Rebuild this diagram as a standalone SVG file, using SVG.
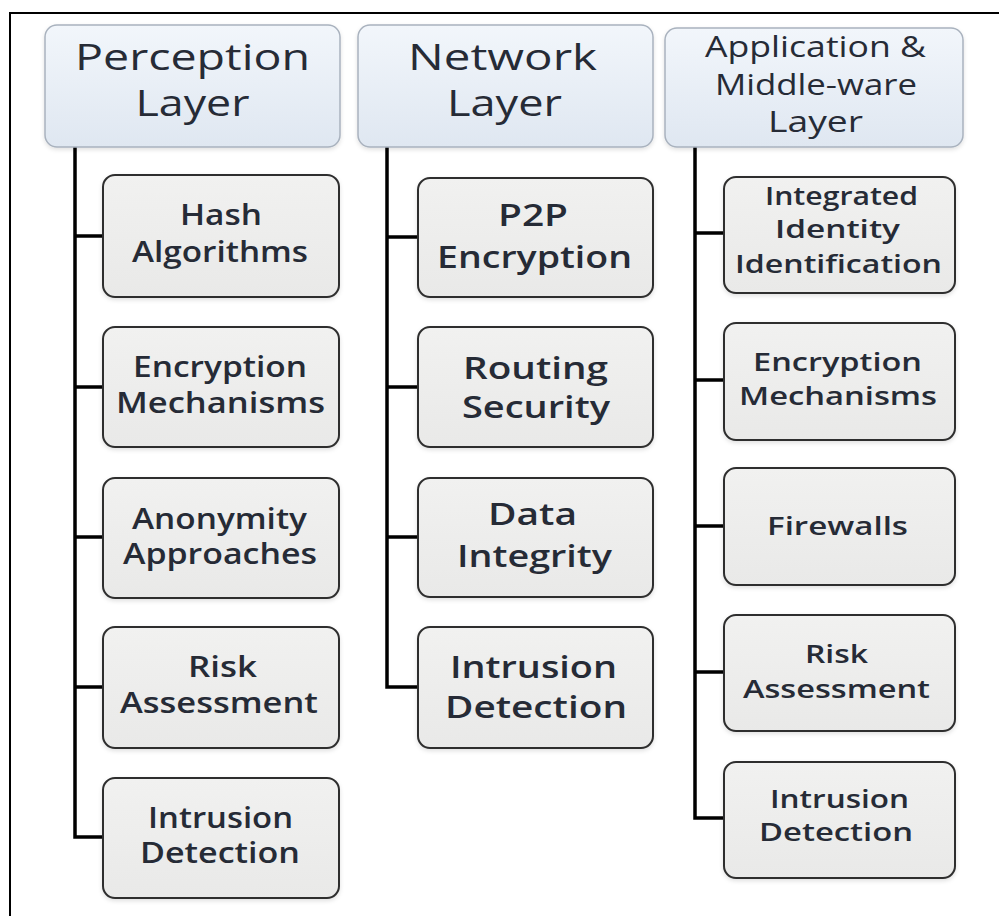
<svg xmlns="http://www.w3.org/2000/svg" width="999" height="916" viewBox="0 0 999 916">
<defs>
<linearGradient id="hdr" x1="0" y1="0" x2="0" y2="1">
<stop offset="0" stop-color="#f2f6fb"/>
<stop offset="1" stop-color="#dfe7f1"/>
</linearGradient>
<linearGradient id="box" x1="0" y1="0" x2="0" y2="1">
<stop offset="0" stop-color="#f1f1f0"/>
<stop offset="1" stop-color="#e9e9e8"/>
</linearGradient>
<filter id="shadow" x="-10%" y="-10%" width="120%" height="125%">
<feDropShadow dx="0" dy="2" stdDeviation="2" flood-color="#000" flood-opacity="0.12"/>
</filter>
</defs>
<style>
.frame{fill:none;stroke:#000;stroke-width:2}
.hdr rect{fill:url(#hdr);stroke:#a9b2be;stroke-width:1.5;filter:url(#shadow)}
.item rect{fill:url(#box);stroke:#2e2e2e;stroke-width:2;filter:url(#shadow)}
text{font-family:"Open Sans","Noto Sans","Liberation Sans",sans-serif;fill:#262b36;text-anchor:middle}
.hdr text{font-weight:400}
.item text{font-weight:600}
.h1{font-size:36px}
.h3{font-size:30px}
.c1{font-size:28px}
.c2{font-size:31px}
.c3{font-size:26px}
.conn{fill:none;stroke:#000;stroke-width:3.5;stroke-linejoin:miter}
</style>
<rect width="999" height="916" fill="#ffffff"/>
<path class="frame" d="M10,916 V13 H999"/>

<g id="connectors">
<path class="conn" d="M75,147 V837 H103"/>
<path class="conn" d="M75,236 H103 M75,387 H103 M75,537 H103 M75,687 H103"/>
<path class="conn" d="M387,147 V687 H418"/>
<path class="conn" d="M387,237 H418 M387,387 H418 M387,537 H418"/>
<path class="conn" d="M695,147 V818 H724"/>
<path class="conn" d="M695,233 H724 M695,380 H724 M695,526 H724 M695,672 H724"/>
</g>

<g id="perception-layer" class="hdr">
<rect x="45" y="25" width="295" height="122" rx="12"/>
<text class="h1" x="192.5" y="70" textLength="235" lengthAdjust="spacingAndGlyphs">Perception</text>
<text class="h1" x="192.5" y="116" textLength="114" lengthAdjust="spacingAndGlyphs">Layer</text>
</g>
<g id="network-layer" class="hdr">
<rect x="358" y="25" width="295" height="122" rx="12"/>
<text class="h1" x="502.5" y="70" textLength="189" lengthAdjust="spacingAndGlyphs">Network</text>
<text class="h1" x="504.5" y="116" textLength="115" lengthAdjust="spacingAndGlyphs">Layer</text>
</g>
<g id="application-layer" class="hdr">
<rect x="665" y="28" width="298" height="119" rx="12"/>
<text class="h3" x="815.5" y="57" textLength="221" lengthAdjust="spacingAndGlyphs">Application &amp;</text>
<text class="h3" x="816" y="95" textLength="202" lengthAdjust="spacingAndGlyphs">Middle-ware</text>
<text class="h3" x="815.5" y="132" textLength="95" lengthAdjust="spacingAndGlyphs">Layer</text>
</g>

<g id="p-hash" class="item">
<rect x="103" y="175" width="236" height="122" rx="12"/>
<text class="c1" x="221" y="225" textLength="82" lengthAdjust="spacingAndGlyphs">Hash</text>
<text class="c1" x="220" y="262" textLength="176" lengthAdjust="spacingAndGlyphs">Algorithms</text>
</g>
<g id="p-encryption" class="item">
<rect x="103" y="327" width="236" height="120" rx="12"/>
<text class="c1" x="220" y="377" textLength="174" lengthAdjust="spacingAndGlyphs">Encryption</text>
<text class="c1" x="220.5" y="413" textLength="209" lengthAdjust="spacingAndGlyphs">Mechanisms</text>
</g>
<g id="p-anonymity" class="item">
<rect x="103" y="478" width="236" height="120" rx="12"/>
<text class="c1" x="219.5" y="529" textLength="175" lengthAdjust="spacingAndGlyphs">Anonymity</text>
<text class="c1" x="220" y="564" textLength="194" lengthAdjust="spacingAndGlyphs">Approaches</text>
</g>
<g id="p-risk" class="item">
<rect x="103" y="627" width="236" height="121" rx="12"/>
<text class="c1" x="222.5" y="677" textLength="69" lengthAdjust="spacingAndGlyphs">Risk</text>
<text class="c1" x="219" y="713" textLength="198" lengthAdjust="spacingAndGlyphs">Assessment</text>
</g>
<g id="p-intrusion" class="item">
<rect x="103" y="778" width="236" height="120" rx="12"/>
<text class="c1" x="220.5" y="828" textLength="145" lengthAdjust="spacingAndGlyphs">Intrusion</text>
<text class="c1" x="220" y="863" textLength="160" lengthAdjust="spacingAndGlyphs">Detection</text>
</g>

<g id="n-p2p" class="item">
<rect x="418" y="178" width="235" height="119" rx="12"/>
<text class="c2" x="533" y="226" textLength="70" lengthAdjust="spacingAndGlyphs">P2P</text>
<text class="c2" x="534.5" y="268" textLength="195" lengthAdjust="spacingAndGlyphs">Encryption</text>
</g>
<g id="n-routing" class="item">
<rect x="418" y="327" width="235" height="120" rx="12"/>
<text class="c2" x="535.5" y="379" textLength="145" lengthAdjust="spacingAndGlyphs">Routing</text>
<text class="c2" x="536" y="418" textLength="148" lengthAdjust="spacingAndGlyphs">Security</text>
</g>
<g id="n-data" class="item">
<rect x="418" y="478" width="235" height="119" rx="12"/>
<text class="c2" x="532.5" y="525" textLength="89" lengthAdjust="spacingAndGlyphs">Data</text>
<text class="c2" x="534.5" y="567" textLength="155" lengthAdjust="spacingAndGlyphs">Integrity</text>
</g>
<g id="n-intrusion" class="item">
<rect x="418" y="627" width="235" height="121" rx="12"/>
<text class="c2" x="533.5" y="678" textLength="167" lengthAdjust="spacingAndGlyphs">Intrusion</text>
<text class="c2" x="536" y="718" textLength="182" lengthAdjust="spacingAndGlyphs">Detection</text>
</g>

<g id="a-identity" class="item">
<rect x="724" y="177" width="231" height="116" rx="12"/>
<text class="c3" x="841.5" y="205" textLength="153" lengthAdjust="spacingAndGlyphs">Integrated</text>
<text class="c3" x="837.5" y="238" textLength="125" lengthAdjust="spacingAndGlyphs">Identity</text>
<text class="c3" x="838.5" y="273" textLength="207" lengthAdjust="spacingAndGlyphs">Identification</text>
</g>
<g id="a-encryption" class="item">
<rect x="724" y="323" width="231" height="117" rx="12"/>
<text class="c3" x="837.5" y="371" textLength="169" lengthAdjust="spacingAndGlyphs">Encryption</text>
<text class="c3" x="838" y="405" textLength="198" lengthAdjust="spacingAndGlyphs">Mechanisms</text>
</g>
<g id="a-firewalls" class="item">
<rect x="724" y="468" width="231" height="117" rx="12"/>
<text class="c3" x="837.5" y="535" textLength="141" lengthAdjust="spacingAndGlyphs">Firewalls</text>
</g>
<g id="a-risk" class="item">
<rect x="724" y="615" width="231" height="116" rx="12"/>
<text class="c3" x="836.5" y="663" textLength="63" lengthAdjust="spacingAndGlyphs">Risk</text>
<text class="c3" x="836.5" y="698" textLength="187" lengthAdjust="spacingAndGlyphs">Assessment</text>
</g>
<g id="a-intrusion" class="item">
<rect x="724" y="762" width="231" height="116" rx="12"/>
<text class="c3" x="839.5" y="808" textLength="139" lengthAdjust="spacingAndGlyphs">Intrusion</text>
<text class="c3" x="836" y="841" textLength="154" lengthAdjust="spacingAndGlyphs">Detection</text>
</g>
</svg>
